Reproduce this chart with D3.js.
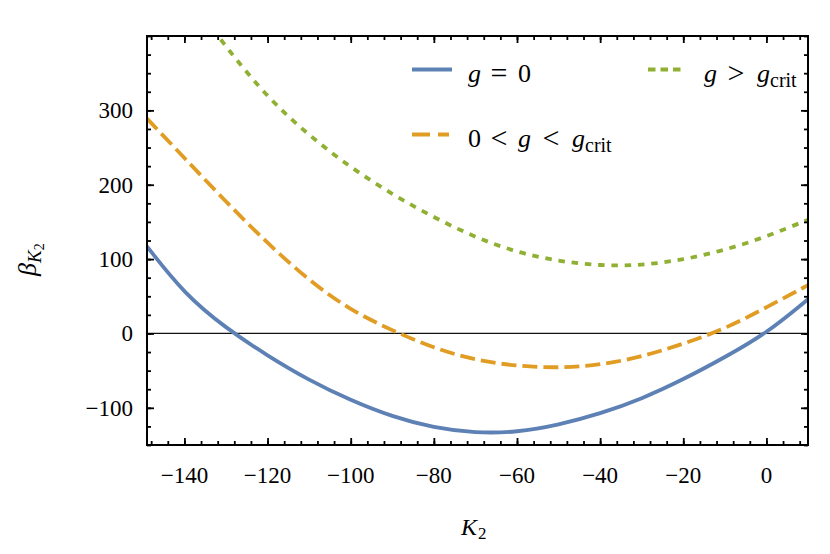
<html lang="en">
<head>
    <meta charset="utf-8">
    <title>beta K2</title>
    <script type="text/javascript" src="https://cdn.jsdelivr.net/npm/d3@7"></script>
    <style type="text/css">
        body { margin: 0; background: white; }
        text { font-family: "Liberation Serif", "Times New Roman", serif; fill: black; }
    </style>
</head>
<body>
<script type="text/javascript">
    // values
    var k2 = [-149, -140, -130, -120, -110, -100, -90, -80, -70, -60, -50, -40, -30, -20, -10, 0, 10];
    var gZero = [117, 53, 7, -30, -63, -90, -112, -127, -134, -133, -123, -108, -88, -62, -32, 0, 46];
    var gBelow = [289, 236, 177, 121, 71, 31, 4, -20, -36, -44, -46.5, -42.5, -31.5, -14, 6, 35, 65];
    var k2Above = [-135, -130, -120, -110, -100, -90, -80, -70, -60, -50, -40, -30, -20, -10, 0, 10];
    var gAbove = [424, 385, 317, 266, 223, 187, 156, 129, 109, 97, 91, 91.5, 99, 112, 130, 153];
    var xTicks = [-140, -120, -100, -80, -60, -40, -20, 0];
    var yTicks = [-100, 0, 100, 200, 300];

    var w = 830, h = 554;
    var padL = 147, padR = 808, padT = 36, padB = 445;

    var svg = d3.select("body").append("svg")
        .attr("width", w)
        .attr("height", h);

    var x = d3.scaleLinear().domain([-149, 10]).range([padL, padR]);
    var y = d3.scaleLinear().domain([-150, 400]).range([padB, padT]);

    svg.append("clipPath").attr("id", "plot")
        .append("rect")
        .attr("x", padL).attr("y", padT)
        .attr("width", padR - padL).attr("height", padB - padT);

    // zero line
    svg.append("line")
        .attr("x1", padL).attr("x2", padR)
        .attr("y1", y(0)).attr("y2", y(0))
        .attr("stroke", "#111")
        .attr("stroke-width", 1.2);

    var line = d3.line()
        .x(function(d) { return x(d[0]); })
        .y(function(d) { return y(d[1]); })
        .curve(d3.curveBasis);

    var series = [
        { xs: k2, ys: gZero, color: "#5E81B5", dash: null },
        { xs: k2, ys: gBelow, color: "#E19C24", dash: "15,6" },
        { xs: k2Above, ys: gAbove, color: "#8FB032", dash: "6.5,6.8" }
    ];

    svg.append("g").attr("clip-path", "url(#plot)")
        .selectAll("path")
        .data(series)
        .enter()
        .append("path")
        .attr("d", function(s) { return line(d3.zip(s.xs, s.ys)); })
        .attr("fill", "none")
        .attr("stroke", function(s) { return s.color; })
        .attr("stroke-width", 3.8)
        .attr("stroke-dasharray", function(s) { return s.dash; });

    // ticks, all pointing inwards
    var minorX = d3.range(-148, 10, 4);
    var minorY = d3.range(-150, 401, 25);
    function tickAxis(axis, vals, size) {
        return axis.tickValues(vals).tickSize(size).tickFormat("");
    }
    var fmt = function(d) { return d < 0 ? "\u2212" + Math.abs(d) : d; };

    svg.append("g").attr("transform", "translate(0," + padB + ")")
        .call(tickAxis(d3.axisBottom(x), minorX, -4));
    svg.append("g").attr("transform", "translate(0," + padT + ")")
        .call(tickAxis(d3.axisTop(x), minorX, -4));
    svg.append("g").attr("transform", "translate(" + padL + ",0)")
        .call(tickAxis(d3.axisLeft(y), minorY, -4));
    svg.append("g").attr("transform", "translate(" + padR + ",0)")
        .call(tickAxis(d3.axisRight(y), minorY, -4));

    svg.append("g").attr("transform", "translate(0," + padB + ")")
        .call(tickAxis(d3.axisBottom(x), xTicks, -7));
    svg.append("g").attr("transform", "translate(0," + padT + ")")
        .call(tickAxis(d3.axisTop(x), xTicks, -7));
    svg.append("g").attr("transform", "translate(" + padL + ",0)")
        .call(tickAxis(d3.axisLeft(y), yTicks, -7));
    svg.append("g").attr("transform", "translate(" + padR + ",0)")
        .call(tickAxis(d3.axisRight(y), yTicks, -7));

    svg.selectAll(".domain").remove();
    svg.selectAll(".tick line").attr("stroke", "black").attr("stroke-width", 1.8);

    // tick labels
    svg.append("g").selectAll("text")
        .data(xTicks)
        .enter()
        .append("text")
        .text(fmt)
        .attr("x", function(d) { return x(d); })
        .attr("y", 483)
        .attr("font-size", "23px")
        .attr("text-anchor", "middle");

    svg.append("g").selectAll("text")
        .data(yTicks)
        .enter()
        .append("text")
        .text(fmt)
        .attr("x", 133)
        .attr("y", function(d) { return y(d) + 8; })
        .attr("font-size", "23px")
        .attr("text-anchor", "end");

    // frame
    svg.append("rect")
        .attr("x", padL).attr("y", padT)
        .attr("width", padR - padL).attr("height", padB - padT)
        .attr("fill", "none")
        .attr("stroke", "black")
        .attr("stroke-width", 2);

    // axis titles
    var xt = svg.append("text")
        .attr("x", 461).attr("y", 535)
        .attr("font-size", "24px");
    xt.append("tspan").attr("font-style", "italic").text("K");
    xt.append("tspan").attr("font-size", "17px").attr("dy", 4).attr("dx", 1).text("2");

    var yt = svg.append("text")
        .attr("transform", "translate(36,276) rotate(-90)")
        .attr("font-size", "26px");
    yt.append("tspan").attr("font-style", "italic").text("\u03B2");
    yt.append("tspan").attr("font-style", "italic").attr("font-size", "19px").attr("dy", 5).text("K");
    yt.append("tspan").attr("font-size", "14px").attr("dy", 3).text("2");

    // legend keys
    var legend = [
        { x1: 412, x2: 452, y: 69.5, color: "#5E81B5", dash: null },
        { x1: 412, x2: 449, y: 134.5, color: "#E19C24", dash: "18,8" },
        { x1: 648, x2: 682, y: 69.5, color: "#8FB032", dash: "7.5,5" }
    ];

    svg.append("g").selectAll("line")
        .data(legend)
        .enter()
        .append("line")
        .attr("x1", function(d) { return d.x1; })
        .attr("x2", function(d) { return d.x2; })
        .attr("y1", function(d) { return d.y; })
        .attr("y2", function(d) { return d.y; })
        .attr("stroke", function(d) { return d.color; })
        .attr("stroke-width", 3.8)
        .attr("stroke-dasharray", function(d) { return d.dash; });

    // legend labels, piece by piece: [text, kind, x]
    var labels = [
        { y: 82, parts: [["g", "i", 468], ["=", "r", 499], ["0", "n", 518]] },
        { y: 147, parts: [["0", "n", 468], ["<", "r", 499], ["g", "i", 518], ["<", "r", 551],
                          ["g", "i", 572], ["crit", "s", 585]] },
        { y: 82, parts: [["g", "i", 704], [">", "r", 736], ["g", "i", 757], ["crit", "s", 770]] }
    ];

    labels.forEach(function(l) {
        l.parts.forEach(function(p) {
            var t = svg.append("text")
                .attr("x", p[2])
                .attr("y", l.y)
                .attr("font-size", "26px")
                .text(p[0]);
            if (p[1] === "i") t.attr("font-style", "italic");
            if (p[1] === "r") t.attr("text-anchor", "middle").attr("font-size", "30px").attr("y", l.y + 1);
            if (p[1] === "s") t.attr("font-size", "20px").attr("y", l.y + 5);
        });
    });
</script>
</body>
</html>
